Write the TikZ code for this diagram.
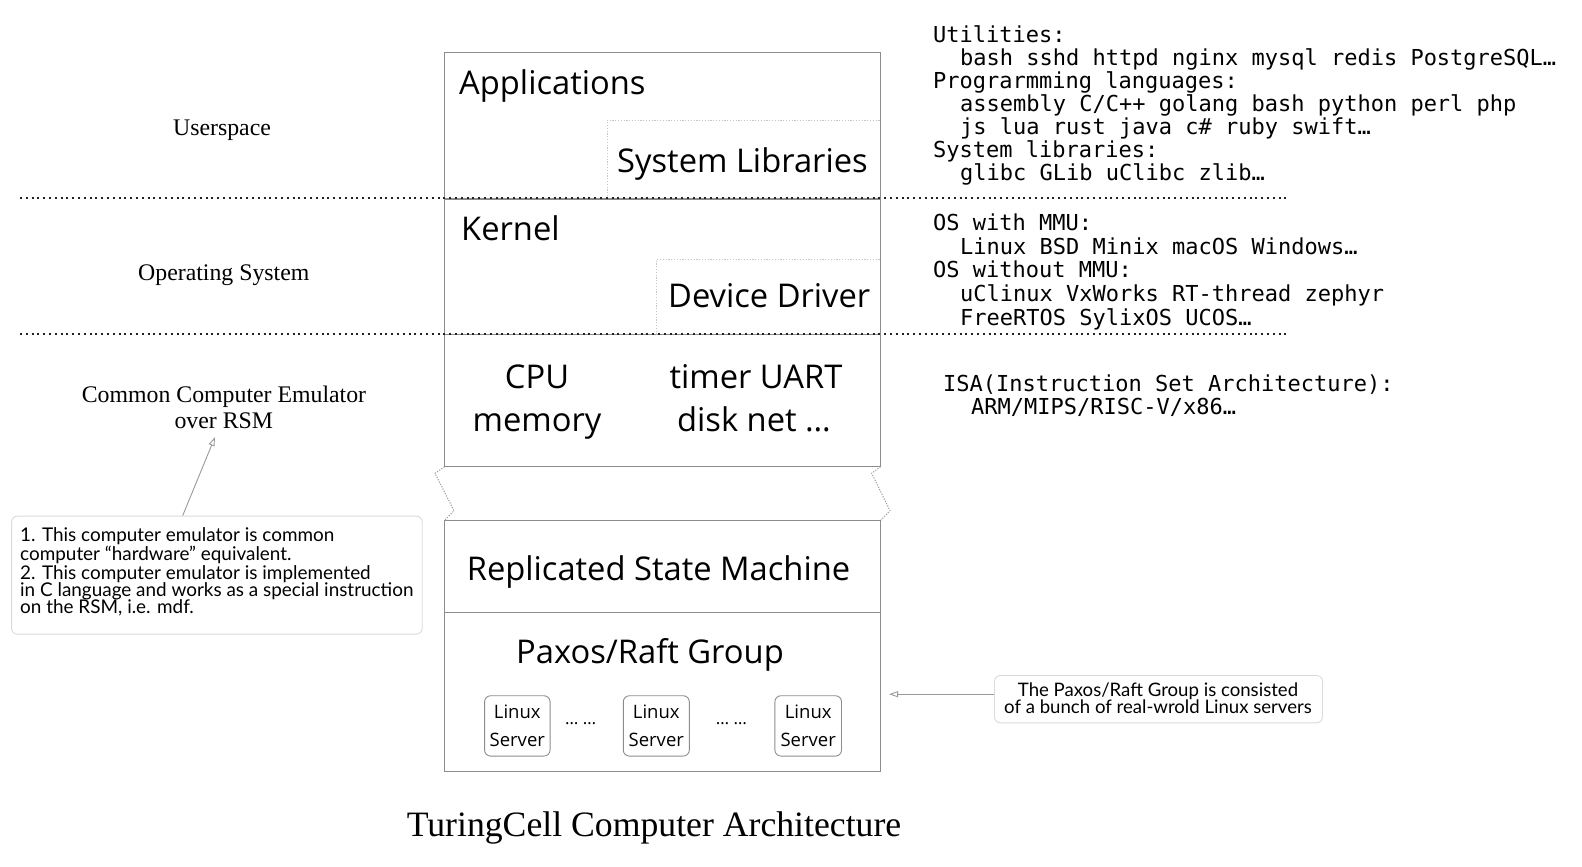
\documentclass[tikz,border=0pt]{standalone}
\usepackage{fontspec}
\setmainfont{Liberation Serif}
\newfontfamily\boxfont{Open Sans}
\newfontfamily\notefont{Lato}
\newfontfamily\codefont{DejaVu Sans Mono}
\usetikzlibrary{arrows.meta}
\definecolor{boxgray}{HTML}{8C8C8C}
\definecolor{subgray}{HTML}{C4C4C4}
\definecolor{notegray}{HTML}{DADADA}
\definecolor{arrgray}{HTML}{9A9A9A}
\definecolor{dotcol}{HTML}{222222}
\begin{document}
\begin{tikzpicture}[x=1pt,y=-1pt,
  layer/.style={draw=boxgray, line width=1.2pt},
  subbox/.style={draw=subgray, line width=0.8pt, dash pattern=on 1.2pt off 1.6pt},
  zig/.style={draw=arrgray, line width=1pt, dash pattern=on 1.2pt off 1.4pt},
  sep/.style={draw=dotcol, line width=2pt, dash pattern=on 2pt off 3.8pt},
  big/.style={font=\boxfont\fontsize{32.7}{38}\selectfont, inner sep=0pt},
  srv/.style={draw=boxgray, line width=0.9pt, rounded corners=6pt, minimum height=60.3pt,
     inner sep=0pt, align=center, font=\boxfont\fontsize{18.5}{27.7}\selectfont},
  lbl/.style={font=\fontsize{23.8}{26.6}\selectfont, inner sep=0pt, anchor=base},
  code/.style={font=\codefont\fontsize{22}{23.3}\selectfont, inner sep=0pt, anchor=base west},
  note/.style={font=\notefont\fontsize{18.9}{19}\selectfont, inner sep=0pt},
  rnote/.style={font=\notefont\fontsize{18.6}{19}\selectfont, inner sep=0pt},
  notebox/.style={draw=notegray, line width=0.9pt, rounded corners=6pt},
  arr/.style={draw=arrgray, line width=0.9pt, -{Triangle[open, length=9pt, width=6pt]}}
]
\useasboundingbox (0,0) rectangle (1582,867);

% ---- main stack (upper) ----
\draw[layer] (444.5,52.7) rectangle (880.5,466.5);
\draw[layer] (444.5,199) -- (880.5,199);
\draw[layer] (444.5,334.5) -- (880.5,334.5);
\draw[subbox] (607.3,199) -- (607.3,120) -- (880.5,120);
\draw[subbox] (656.7,334.5) -- (656.7,259.3) -- (880.5,259.3);

% ---- zigzag break ----
\draw[zig] (444.5,466.7) -- (435,473.3) -- (454,510.7) -- (444.5,520.5);
\draw[zig] (880.5,466.7) -- (871.7,473.3) -- (890,510.7) -- (880.5,520.5);

% ---- lower stack ----
\draw[layer] (444.5,520.5) rectangle (880.5,771.3);
\draw[layer] (444.5,612.3) -- (880.5,612.3);

% ---- layer separators ----
\draw[sep] (20,197.5) -- (1289.5,197.5);
\draw[sep] (20,333.5) -- (1287.5,333.5);

% ---- box texts ----
\node[big, anchor=base west] (apps) at (459,94) {Applications};
\node[big, anchor=base west] (syslib) at (617,172.5) {System Libraries};
\node[big, anchor=base west] (kernel) at (461,240.5) {Kernel};
\node[big, anchor=base west] (driver) at (668,307) {Device Driver};
\node[big, anchor=base] (cpu) at (537,388.5) {CPU};
\node[big, anchor=base] (mem) at (537,431) {memory};
\node[big, anchor=base] (timer) at (756,388.5) {timer UART};
\node[big, anchor=base] (disk) at (754,431) {disk net \dots};
\node[big, anchor=base] (rsm) at (658.5,580) {Replicated State Machine};
\node[big, anchor=base] (paxos) at (650,663.5) {Paxos/Raft Group};

% ---- servers ----
\node[srv, minimum width=65.5pt] (s1) at (517.3,725.9) {Linux\\Server};
\node[srv, minimum width=66pt] (s2) at (656.3,725.9) {Linux\\Server};
\node[srv, minimum width=66.6pt] (s3) at (808.2,725.9) {Linux\\Server};
\node[font=\boxfont\fontsize{17}{20}\selectfont, inner sep=0pt, anchor=base] (d1) at (580.7,724) {\dots\ \dots};
\node[font=\boxfont\fontsize{17}{20}\selectfont, inner sep=0pt, anchor=base] (d2) at (731.5,724) {\dots\ \dots};

% ---- left labels ----
\node[lbl] (user) at (222,135.5) {Userspace};
\node[lbl] (os) at (223.8,280.5) {Operating System};
\node[lbl] (cce1) at (224,402.5) {Common Computer Emulator};
\node[lbl] (cce2) at (223.8,428.8) {over RSM};

% ---- title ----
\node[font=\fontsize{35.7}{40}\selectfont, inner sep=0pt, anchor=base] (title) at (654,836) {TuringCell Computer Architecture};

% ---- left note ----
\node[notebox, minimum width=410.7pt, minimum height=118.1pt, anchor=north west] (note1) at (11.1,515.6) {};
\node[note, anchor=base west] (n1a) at (20,541) {1. This computer emulator is common};
\node[note, anchor=base west] (n1b) at (20,560) {computer “hardware” equivalent.};
\node[note, anchor=base west] (n1c) at (20,579) {2. This computer emulator is implemented};
\node[note, anchor=base west] (n1d) at (20,596.5) {in C language and works as a special instruction};
\node[note, anchor=base west] (n1e) at (20,613.5) {on the RSM, i.e. mdf.};
\coordinate (a1s) at (182.7,515.6);
\coordinate (a1e) at (215,437);
\draw[arr] (a1s) -- (a1e);

% ---- right note ----
\node[notebox, minimum width=328pt, minimum height=47.4pt, anchor=north west] (note2) at (994,675) {};
\node[rnote, anchor=base] (n2a) at (1158,696.5) {The Paxos/Raft Group is consisted};
\node[rnote, anchor=base] (n2b) at (1158,713.5) {of a bunch of real-wrold Linux servers};
\coordinate (a2s) at (note2.west |- 0,694.2);
\coordinate (a2e) at (889,694.2);
\draw[arr] (a2s) -- (a2e);

% ---- right code text ----
\node[code] (u1) at (933,42.2) {Utilities:};
\node[code] (u2) at (960,65.2) {bash sshd httpd nginx mysql redis PostgreSQL…};
\node[code] (u3) at (933,88.2) {Prograrmming languages:};
\node[code] (u4) at (960,111.2) {assembly C/C++ golang bash python perl php};
\node[code] (u5) at (960,134.2) {js lua rust java c\# ruby swift…};
\node[code] (u6) at (933,157.2) {System libraries:};
\node[code] (u7) at (960,180.2) {glibc GLib uClibc zlib…};

\node[code] (o1) at (933,230.3) {OS with MMU:};
\node[code] (o2) at (960,254) {Linux BSD Minix macOS Windows…};
\node[code] (o3) at (933,277.7) {OS without MMU:};
\node[code] (o4) at (960,301.4) {uClinux VxWorks RT-thread zephyr};
\node[code] (o5) at (960,325) {FreeRTOS SylixOS UCOS…};

\node[code] (i1) at (943,391.3) {ISA(Instruction Set Architecture):};
\node[code] (i2) at (971,414.8) {ARM/MIPS/RISC-V/x86…};
\end{tikzpicture}
\end{document}
